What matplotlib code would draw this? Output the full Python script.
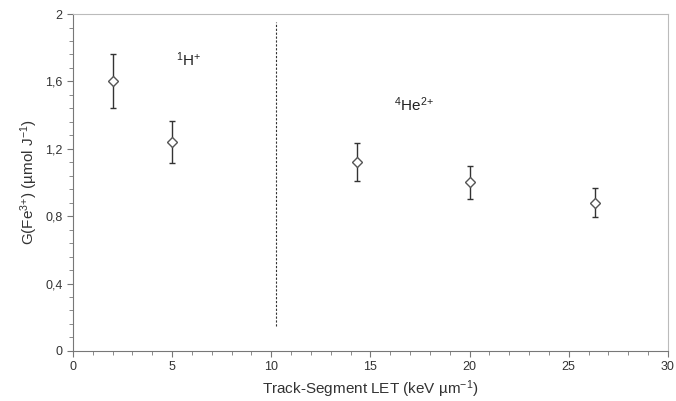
import matplotlib
matplotlib.use("Agg")
import matplotlib.pyplot as plt
from matplotlib.ticker import MultipleLocator, FuncFormatter

# Data
let_h = [2.0, 5.0]
g_h = [1.60, 1.24]
err_h = [0.16, 0.125]

let_he = [14.3, 20.0, 26.3]
g_he = [1.12, 1.00, 0.88]
err_he = [0.113, 0.10, 0.087]

divider_x = 10.25

plt.rcParams['font.family'] = ['Liberation Sans', 'DejaVu Sans']
plt.rcParams['mathtext.fontset'] = 'custom'
plt.rcParams['mathtext.rm'] = 'Liberation Sans'
plt.rcParams['mathtext.it'] = 'Liberation Sans'


def main():
    fig = plt.figure(figsize=(6.76, 4.01), dpi=100)
    ax = fig.add_axes([0.108, 0.125, 0.88, 0.84])

    for xs, ys, es in [(let_h, g_h, err_h), (let_he, g_he, err_he)]:
        ax.errorbar(xs, ys, yerr=es, fmt='D', ms=5.5, mfc='white', mec='#555555',
                    mew=1.0, ecolor='#333333', elinewidth=1.0, capsize=2.5,
                    capthick=1.0, zorder=3)

    ax.plot([divider_x, divider_x], [0.15, 1.95], ls=(0, (2, 1.5)), color='#333333', lw=0.8)

    ax.text(5.2, 1.73, r'$^{1}$H$^{{+}}$', fontsize=11, color='#222222', va='center')
    ax.text(16.2, 1.46, r'$^{4}$He$^{2{+}}$', fontsize=11, color='#222222', va='center')

    ax.set_xlim(0, 30)
    ax.set_ylim(0, 2)
    ax.xaxis.set_major_locator(MultipleLocator(5))
    ax.xaxis.set_minor_locator(MultipleLocator(1))
    ax.yaxis.set_major_locator(MultipleLocator(0.4))
    ax.yaxis.set_minor_locator(MultipleLocator(0.08))
    ax.yaxis.set_major_formatter(FuncFormatter(lambda v, p: ('%g' % round(v, 2)).replace('.', ',')))

    ax.tick_params(which='both', direction='out', colors='#777777', labelcolor='#333333', labelsize=9)
    ax.tick_params(which='major', length=4)
    ax.tick_params(which='minor', length=3)
    for side in ['left', 'bottom']:
        ax.spines[side].set_color('#777777')
    for side in ['top', 'right']:
        ax.spines[side].set_color('#bbbbbb')

    ax.set_xlabel(r'Track-Segment LET (keV µm$^{-1}$)', fontsize=11, color='#333333')
    ax.set_ylabel(r'G(Fe$^{3{+}}$) (µmol J$^{-1}$)', fontsize=11, color='#333333')

    fig.savefig('out.png', dpi=100)


if __name__ == "__main__":
    main()
